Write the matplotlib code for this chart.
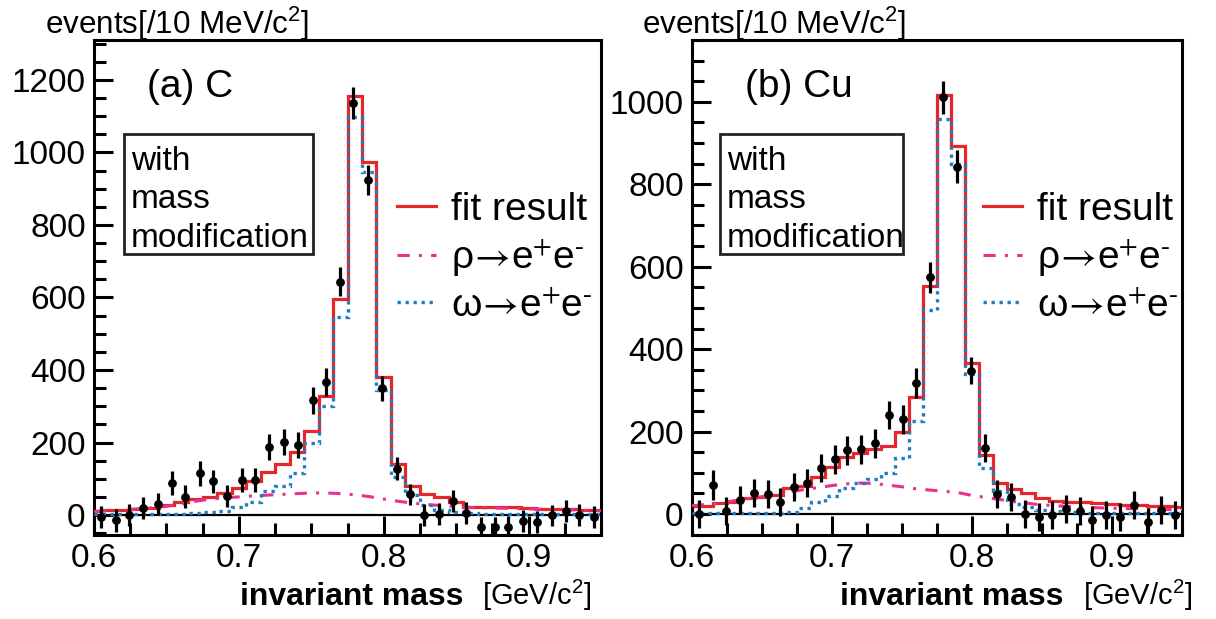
import numpy as np
import matplotlib
matplotlib.use("Agg")
import matplotlib.pyplot as plt
from matplotlib.patches import Rectangle
from matplotlib.ticker import MultipleLocator, FormatStrFormatter

plt.rcParams['font.family'] = ['Liberation Sans', 'DejaVu Sans']
plt.rcParams['mathtext.fontset'] = 'custom'
plt.rcParams['mathtext.rm'] = 'Liberation Sans'
plt.rcParams['mathtext.it'] = 'Liberation Sans:italic'
plt.rcParams['mathtext.bf'] = 'Liberation Sans:bold'

# histogram bins (10 MeV), centres 0.60 ... 0.95
bin_centers = np.round(np.arange(0.60, 0.9501, 0.01), 3)
bin_edges = np.round(np.append(bin_centers - 0.005, bin_centers[-1] + 0.005), 3)

# data point positions as drawn in the figure
data_x = [0.605, 0.615, 0.624, 0.634, 0.644, 0.654, 0.663, 0.673, 0.682, 0.692,
          0.702, 0.711, 0.721, 0.731, 0.741, 0.751, 0.760, 0.770, 0.779, 0.789,
          0.799, 0.809, 0.818, 0.828, 0.838, 0.848, 0.857, 0.867, 0.877, 0.886,
          0.896, 0.906, 0.916, 0.926, 0.935, 0.945]

# (a) C
c_data = [-5, -15, 0, 20, 31, 88, 51, 115, 93, 52, 97, 97, 187, 201, 192, 316, 367, 643,
          1136, 924, 349, 128, 57, 1, 3, 38, 5, -34, -34, -32, -17, -20, -1, 12, 1, -6]
c_err = [31, 31, 30, 30, 31, 33, 31, 34, 32, 31, 33, 33, 36, 36, 36, 38, 39, 40,
         44, 41, 35, 31, 30, 30, 30, 30, 30, 30, 30, 30, 30, 30, 30, 30, 30, 30]
c_fit = [12, 13, 14, 16, 20, 27, 36, 45, 50, 62, 75, 95, 118, 140, 175, 232, 328, 597,
         1155, 974, 380, 141, 79, 58, 51, 35, 23, 22, 22, 21, 20, 18, 17, 16, 15, 14]
c_rho = [10, 12, 14, 17, 20, 24, 30, 38, 44, 47, 50, 53, 55, 57, 59, 61, 61, 59,
         56, 51, 44, 38, 33, 29, 26, 23, 21, 20, 19, 18, 17, 16, 15, 14, 13, 12]
c_omega = [2, 2, 2, 2, 3, 3, 4, 5, 8, 12, 21, 35, 65, 80, 115, 200, 300, 545,
           1098, 945, 345, 104, 55, 27, 15, 8, 5, 3, 3, 2, 2, 2, 2, 2, 2, 2]

# (b) Cu
cu_data = [0, 70, 8, 34, 50, 48, 30, 66, 76, 111, 133, 155, 157, 172, 240, 230, 317, 574,
           1011, 843, 348, 159, 48, 42, 1, -7, -2, 11, 7, -14, -3, -7, 22, -19, 10, -2]
cu_err = [34, 36, 34, 34, 34, 34, 34, 34, 34, 34, 35, 35, 35, 35, 35, 35, 36, 38,
          40, 40, 33, 34, 34, 34, 34, 34, 34, 34, 34, 34, 34, 34, 34, 34, 34, 34]
cu_fit = [19, 20, 27, 30, 38, 42, 45, 62, 68, 90, 115, 138, 148, 158, 165, 198, 285, 554,
          1017, 894, 367, 143, 74, 60, 50, 38, 32, 30, 28, 26, 24, 22, 21, 20, 19, 18]
cu_rho = [20, 23, 27, 32, 37, 42, 48, 54, 59, 64, 69, 73, 75, 74, 70, 66, 61, 58,
          55, 52, 45, 40, 35, 30, 26, 22, 20, 18, 16, 15, 14, 13, 13, 12, 11, 11]
cu_omega = [2, 2, 2, 2, 2, 2, 2, 5, 14, 30, 44, 62, 75, 85, 100, 135, 225, 495,
            958, 850, 340, 112, 55, 24, 16, 10, 7, 5, 3, 3, 2, 2, 2, 2, 2, 2]

RED = '#e5262b'
PINK = '#e8308f'
BLUE = '#1f7cc0'

W, H = 1216, 619
fig = plt.figure(figsize=(W / 100, H / 100), dpi=100)


def fx(px):
    return px / W


def fy(py):
    return 1 - py / H


panels = [
    dict(rect=(94, 40, 601, 535), ylim=(-55, 1310), ymax_tick=1200,
         data=c_data, err=c_err, fit=c_fit, rho=c_rho, omega=c_omega,
         title='(a) C', title_x=147, ylab_x=45, box=(124, 134, 313, 254), box_tx=131,
         leg_x=397, xlab_x=240, unit_x=482),
    dict(rect=(692, 40, 1182, 535), ylim=(-51, 1150), ymax_tick=1000,
         data=cu_data, err=cu_err, fit=cu_fit, rho=cu_rho, omega=cu_omega,
         title='(b) Cu', title_x=745, ylab_x=642, box=(720, 134, 903, 254), box_tx=727,
         leg_x=983, xlab_x=840, unit_x=1083),
]

arrow = r'$\!\rightarrow\!$e$^{+}$e$^{\text{-}}$'

for p in panels:
    x0, y0, x1, y1 = p['rect']
    ax = fig.add_axes([fx(x0), fy(y1), (x1 - x0) / W, (y1 - y0) / H])

    ax.axhline(0, color='black', lw=1.6, zorder=1)
    hf = ax.stairs(p['fit'], bin_edges, color=RED, lw=2.3, zorder=2, label='fit result')
    lr, = ax.plot(bin_centers, p['rho'], color=PINK, lw=2.2, dashes=(4, 3, 1, 3),
                  zorder=3, label='ρ' + arrow)
    ho = ax.stairs(p['omega'], bin_edges, color=BLUE, lw=2.4, linestyle=(0, (1, 1.4)),
                   zorder=4, label='ω' + arrow)
    ax.errorbar(data_x, p['data'], yerr=p['err'], fmt='o', color='black', ms=5.3,
                elinewidth=2.3, capsize=0, zorder=5)

    ax.set_xlim(0.6, 0.95)
    ax.set_ylim(*p['ylim'])
    ax.xaxis.set_major_locator(MultipleLocator(0.1))
    ax.xaxis.set_major_formatter(FormatStrFormatter('%.1f'))
    ax.xaxis.set_minor_locator(MultipleLocator(0.025))
    ax.set_yticks(np.arange(0, p['ymax_tick'] + 1, 200))
    ax.yaxis.set_minor_locator(MultipleLocator(50))
    ax.tick_params(which='both', direction='in', top=False, right=False, width=2.2,
                   labelsize=24, colors='black')
    ax.tick_params(which='major', length=14)
    ax.tick_params(which='minor', length=8.5)
    ax.tick_params(axis='x', pad=6)
    ax.tick_params(axis='y', pad=6)
    for s in ax.spines.values():
        s.set_linewidth(2.2)

    # legend
    leg = ax.legend(handles=[hf, lr, ho], loc='upper left', frameon=False, fontsize=28,
                    bbox_to_anchor=(fx(p['leg_x']), fy(192)),
                    bbox_transform=fig.transFigure, borderpad=0, borderaxespad=0,
                    handlelength=1.0, handletextpad=0.4, labelspacing=0.24)
    for t in leg.get_texts():
        t.set_math_fontfamily('stixsans')

    # box with annotation text
    bx0, by0, bx1, by1 = p['box']
    fig.patches.append(Rectangle((fx(bx0), fy(by1)), (bx1 - bx0) / W, (by1 - by0) / H,
                                 transform=fig.transFigure, fill=False, lw=2.0,
                                 edgecolor='#222222'))
    for txt, base in zip(['with', 'mass', 'modification'], [170, 208, 247]):
        fig.text(fx(p['box_tx']), fy(base), txt, fontsize=24, va='baseline', ha='left')

    fig.text(fx(p['title_x']), fy(97), p['title'], fontsize=28, va='baseline', ha='left')
    fig.text(fx(p['ylab_x']), fy(34), 'events[/10 MeV/c$^{2}$]', fontsize=22.6,
             va='baseline', ha='left')
    fig.text(fx(p['xlab_x']), fy(605), 'invariant mass', fontsize=23, fontweight='bold',
             va='baseline', ha='left')
    fig.text(fx(p['unit_x']), fy(605), '[GeV/c$^{2}$]', fontsize=21, va='baseline',
             ha='left')

fig.savefig('out.png', dpi=100)
